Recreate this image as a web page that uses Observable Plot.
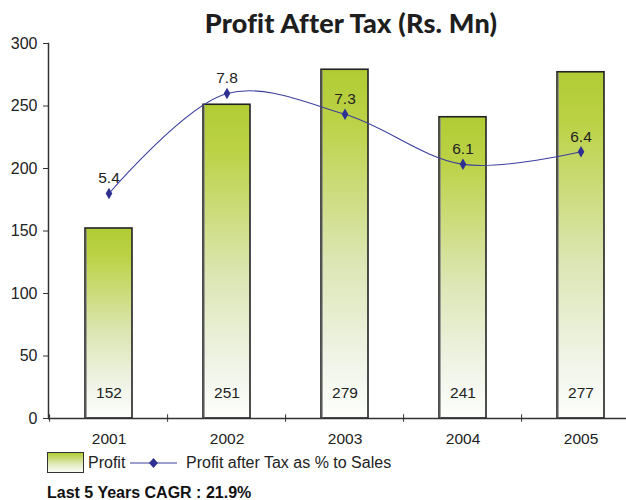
<!DOCTYPE html>
<html>
<head>
<meta charset="utf-8">
<script src="https://cdn.jsdelivr.net/npm/d3@7"></script>
<script src="https://cdn.jsdelivr.net/npm/@observablehq/plot@0.6"></script>
<style>
  html, body { margin: 0; padding: 0; background: #fff; }
  body { width: 626px; height: 500px; position: relative; overflow: hidden; font-family: "Liberation Sans", Arial, sans-serif; color: #222; }
  #title { position: absolute; top: 6px; left: 0; width: 702px; text-align: center; font-family: Lato, "DejaVu Sans", sans-serif; font-weight: 900; font-size: 27px; color: #1e1e1e; letter-spacing: 0.2px; }
  #chart { position: absolute; top: 0; left: 0; }
  #legend { position: absolute; top: 452px; left: 47px; height: 22px; font-size: 16px; color: #222; }
  #legend .sw { position: absolute; left: 0; top: 0; width: 35px; height: 19px; border: 1px solid #333; background: linear-gradient(#b0cc34, #e2ebc0 60%, #fafcf6); }
  #legend .t1 { position: absolute; left: 41px; top: 2px; white-space: nowrap; }
  #legend svg { position: absolute; left: 83px; top: 0; }
  #legend .t2 { position: absolute; left: 139px; top: 2px; white-space: nowrap; }
  #caption { position: absolute; top: 485px; left: 47px; font-size: 16px; line-height: 16px; font-weight: bold; color: #111; white-space: nowrap; }
</style>
</head>
<body>
<div id="chart"></div>
<div id="title">Profit After Tax (Rs. Mn)</div>
<div id="legend">
  <div class="sw"></div>
  <div class="t1">Profit</div>
  <svg width="50" height="22"><line x1="0" y1="11" x2="47" y2="11" stroke="#3b3f9e" stroke-width="1.2"/><path d="M23.5,6 L28,11 L23.5,16 L19,11 Z" fill="#2e3192"/></svg>
  <div class="t2">Profit after Tax as % to Sales</div>
</div>
<div id="caption">Last 5 Years CAGR : 21.9%</div>
<script>
// ---- data ----
const years = ["2001", "2002", "2003", "2004", "2005"];
const profit = [152, 251, 279, 241, 277];
const pctToSales = [5.4, 7.8, 7.3, 6.1, 6.4];
const yTicks = [0, 50, 100, 150, 200, 250, 300];
const yMax = 300;
const pctAxisMax = 9; // hidden secondary axis 0..9

const data = years.map((year, i) => ({ year, profit: profit[i], pct: pctToSales[i] }));
const pctScale = yMax / pctAxisMax;

function gradientDefs() {
  const ns = "http://www.w3.org/2000/svg";
  const defs = document.createElementNS(ns, "defs");
  const lg = document.createElementNS(ns, "linearGradient");
  lg.setAttribute("id", "barGrad");
  lg.setAttribute("x1", "0"); lg.setAttribute("y1", "0");
  lg.setAttribute("x2", "0"); lg.setAttribute("y2", "1");
  [["0%", "#b0cc34"], ["15%", "#bcd246"], ["55%", "#dce6b4"], ["85%", "#f1f5ea"], ["100%", "#fdfefb"]].forEach(([o, c]) => {
    const s = document.createElementNS(ns, "stop");
    s.setAttribute("offset", o); s.setAttribute("stop-color", c);
    lg.appendChild(s);
  });
  defs.appendChild(lg);
  return defs;
}

const step = 594 / 5;

const chart = Plot.plot({
  width: 626,
  height: 440,
  marginTop: 43,
  marginBottom: 22,
  marginLeft: 48,
  marginRight: 0,
  style: { fontFamily: "'Liberation Sans', Arial, sans-serif", fontSize: "15px", color: "#222", overflow: "visible" },
  x: { domain: years, range: [48, 642], paddingInner: 0.6, paddingOuter: 0.3, label: null },
  y: { domain: [0, yMax], label: null },
  marks: [
    gradientDefs,
    Plot.barY(data, { x: "year", y: "profit", fill: "url(#barGrad)", stroke: "#222", strokeWidth: 1.6 }),
    Plot.barY(data, { x: "year", y: "profit", fill: "#8a8a8a", insetLeft: 0.8, insetRight: step * 0.4 - 2.3, insetTop: 1.5 }),
    Plot.text(data, { x: "year", y: 0, dy: -25, text: d => String(d.profit), fontSize: 15.5, fill: "#222" }),
    Plot.line(data, { x: "year", y: d => d.pct * pctScale, curve: "catmull-rom", stroke: "#3b3f9e", strokeWidth: 1.1 }),
    Plot.dot(data, { x: "year", y: d => d.pct * pctScale, symbol: "diamond", r: 3.5, fill: "#2e3192", stroke: "none" }),
    Plot.text(data, { x: "year", y: d => d.pct * pctScale, text: d => d.pct.toFixed(1), dy: -15, fontSize: 15.5, fill: "#222" }),
    Plot.ruleY([0], { stroke: "#333", strokeWidth: 1.5 }),
    Plot.ruleX(years, { x: d => d, dx: -step / 2, y1: -3, y2: 3, stroke: "#333", strokeWidth: 1 }),
    Plot.frame({ anchor: "left", stroke: "#333", strokeWidth: 1.5 }),
    Plot.axisY({ ticks: yTicks, tickSize: 5, tickPadding: 6, fontSize: 16, label: null, stroke: "#333" }),
    Plot.axisX({ tickSize: 0, tickPadding: 14, fontSize: 15.5, label: null })
  ]
});
document.getElementById("chart").appendChild(chart);
</script>
</body>
</html>
